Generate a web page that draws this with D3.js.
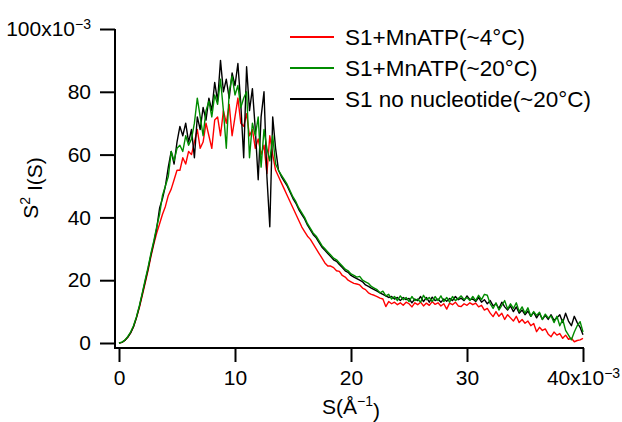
<!DOCTYPE html>
<html>
<head>
<meta charset="utf-8">
<script src="https://cdn.jsdelivr.net/npm/d3@7"></script>
<style>
  body { margin: 0; background: #fff; }
  text { font-family: "Liberation Sans", Arial, sans-serif; fill: #000; }
</style>
</head>
<body>
<svg id="chart" width="622" height="422"></svg>
<script>
// S values in units of 1e-3 (A^-1), step 0.25
const sStep = 0.25;
const sCount = 161;

// S^2 I(S), units of 1e-3
const redVals = [
  0, 0.2, 0.8, 1.8, 3.2, 5.2, 8, 11.2, 15, 19, 23, 27.5, 31.5, 35, 38, 41,
  43.5, 47, 49, 52, 55, 55, 59, 57, 61, 60, 64, 68, 62, 64, 70, 66,
  62, 71, 72, 66, 74, 70, 76, 66, 72, 78, 70, 69, 73, 66, 68, 62,
  65, 60, 63, 54, 66, 60, 55, 53, 51, 49, 47, 45, 43, 41, 39, 37,
  35.5, 34, 33, 31.5, 30, 28.5, 27, 25.5, 24.5, 24.5, 24, 23, 22.8, 21.5, 21, 20,
  19.5, 19, 18.8, 18.5, 17.5, 17, 16, 15.5, 15.2, 14.8, 14.3, 14, 11.6, 13.2, 12.5, 13,
  12.2, 12.8, 12, 13, 12.5, 11.5, 12.8, 12.2, 13, 11.8, 12.7, 12, 13.2, 12.3, 12.8, 11.8,
  12.5, 10.8, 12.7, 12.2, 13, 11.8, 11.6, 12.5, 12, 12.8, 12.2, 12.7, 11.5, 12, 10.5, 11,
  9.5, 8.4, 10, 8.5, 9.5, 7.5, 9, 8, 7, 8.5, 6.5, 7.5, 6.3, 7, 5.5, 6.2,
  3.6, 5, 4, 4.5, 2.8, 2, 3.5, 2.5, 3, 1.5, 2.5, 1.2, 1.5, 0.4, 0.8, 1,
  1.5
];
const greenVals = [
  0, 0.3, 0.9, 2, 3.5, 5.5, 8.3, 11.8, 15.8, 20, 24, 28.5, 32.5, 37, 41, 47,
  50, 53, 61, 58, 62, 63, 61, 66, 63, 65, 70, 78, 72, 66, 74, 77,
  72, 79, 76, 84, 74, 62, 80, 85, 79, 82, 75, 78, 80, 59, 70, 66,
  72, 56, 68, 62, 58, 66, 57, 55, 53.5, 52, 50.5, 48.5, 46.5, 45, 43, 41.5,
  40, 38, 36.5, 35, 34, 32.5, 31, 30, 29, 28, 27, 26.5, 25.5, 24.5, 23.5, 23,
  22, 21.5, 21, 21.2, 20, 19.5, 19, 18, 17.5, 17, 16, 16.5, 15, 15.5, 14, 14.8,
  13.5, 15, 13.8, 14.5, 13.2, 14.8, 13.5, 14, 13, 15.2, 13.8, 14.5, 13.2, 14.8, 13.5, 15,
  13.2, 14.5, 13, 14.8, 13.5, 14.2, 15, 13.8, 14.5, 13.5, 14.8, 13.5, 15.2, 13.8, 15.5, 15.2,
  12.5, 11, 12.8, 10.5, 12, 13.5, 10.8, 12.5, 11, 12.8, 10, 11.5, 9.5, 11.2, 8.5, 10,
  8.8, 9.8, 7.5, 9.2, 8, 8.6, 6.5, 8.5, 5.5, 7.5, 4, 2.5, 1, 3.5, 5.5, 6.8,
  3.5
];
const blackVals = [
  0, 0.2, 0.8, 1.8, 3.2, 5.2, 8, 11.5, 15.5, 19.5, 23.5, 28, 32, 36.5, 43, 46,
  50, 56, 61, 57, 64, 69, 66, 70, 64, 68, 59, 72, 68, 75, 71, 78,
  74, 83, 77, 90, 80, 84, 78, 86, 82, 89, 76, 59, 88, 74, 81, 68,
  52, 72, 80, 53, 37, 72, 62, 55, 53, 51.5, 50, 48, 46, 44.5, 42.5, 41,
  39.5, 37.5, 36, 34.5, 33.5, 32, 30.5, 29.5, 28.5, 27.5, 26.5, 26, 25, 24, 23, 22.5,
  21.5, 21, 20.5, 20, 19.5, 18.5, 18, 17.5, 17, 16.5, 16, 15.5, 15, 14.5, 14.8, 14,
  14.5, 13.5, 14.5, 13.8, 14.2, 12.8, 14, 13.5, 14.8, 13.2, 14.5, 13, 14.6, 13.5, 14, 13,
  14, 13.3, 14.2, 13.5, 14.8, 13.8, 14.3, 13.5, 15, 13.8, 14, 13.2, 14.5, 13, 13.8, 12.5,
  13.5, 11.8, 12.5, 11, 13, 11.5, 10.5, 11.8, 10, 11.5, 9.5, 10.5, 9, 10.2, 8.5, 9.8,
  8, 9.5, 7.5, 8.8, 7.5, 9, 7.2, 8, 9, 6.5, 9.5, 7, 5.5, 8.5, 6.5, 5,
  2.6
];

const seriesNames = ["S1+MnATP(~4°C)", "S1+MnATP(~20°C)", "S1 no nucleotide(~20°C)"];
const seriesColors = ["#ff0000", "#008c00", "#000000"];
const xTicks = [0, 10, 20, 30, 40];
const yTicks = [0, 20, 40, 60, 80, 100];

const sVals = d3.range(sCount).map(i => i * sStep);

const svg = d3.select("#chart");
const x = d3.scaleLinear().domain([0, 40]).range([119, 583]);
const y = d3.scaleLinear().domain([0, 100]).range([343, 29]);

const fs = 21, fsSup = 14;

// axes lines (offset Igor style)
const axisY = 348;
const axisX = 115;
svg.append("line").attr("x1", axisX).attr("x2", axisX).attr("y1", y(100)).attr("y2", axisY + 1)
  .attr("stroke", "#000").attr("stroke-width", 2);
svg.append("line").attr("x1", axisX - 1).attr("x2", x(40) + 1).attr("y1", axisY).attr("y2", axisY)
  .attr("stroke", "#000").attr("stroke-width", 2);

// y ticks
const yAxis = svg.append("g").attr("transform", `translate(${axisX},0)`)
  .call(d3.axisLeft(y).tickValues(yTicks).tickSize(15).tickPadding(9).tickSizeOuter(0)
    .tickFormat(d => d === 100 ? "100x10" : d));
yAxis.select(".domain").remove();
yAxis.selectAll(".tick line").attr("stroke-width", 2);
yAxis.selectAll(".tick text").attr("font-size", fs).attr("font-family", null);
yAxis.selectAll(".tick text").filter(d => d === 100)
  .append("tspan").attr("dy", "-0.5em").attr("font-size", fsSup).text("\u22123");

// x ticks
const xAxis = svg.append("g").attr("transform", `translate(0,${axisY})`)
  .call(d3.axisBottom(x).tickValues(xTicks).tickSize(14).tickPadding(8).tickSizeOuter(0)
    .tickFormat(d => d === 40 ? "40x10" : d));
xAxis.select(".domain").remove();
xAxis.selectAll(".tick line").attr("stroke-width", 2);
xAxis.selectAll(".tick text").attr("font-size", fs).attr("font-family", null);
xAxis.selectAll(".tick text").filter(d => d === 40)
  .append("tspan").attr("dy", "-0.5em").attr("font-size", fsSup).text("\u22123");

// axis titles
const xt = svg.append("text").attr("x", x(20)).attr("y", 414)
  .attr("text-anchor", "middle").attr("font-size", fs);
xt.append("tspan").text("S(Å");
xt.append("tspan").attr("dy", "-0.55em").attr("font-size", fsSup).text("\u22121");
xt.append("tspan").attr("dy", "0.55em").text(")");

const yt = svg.append("text").attr("transform", `translate(38,${y(50) + 2}) rotate(-90)`)
  .attr("text-anchor", "middle").attr("font-size", fs);
yt.append("tspan").text("S");
yt.append("tspan").attr("dy", "-0.55em").attr("font-size", fsSup).text("2");
yt.append("tspan").attr("dy", "0.55em").text(" I(S)");

// curves
const line = d3.line().x((d, i) => x(sVals[i])).y(d => y(d));
const drawOrder = [[redVals, 0], [blackVals, 2], [greenVals, 1]];
drawOrder.forEach(([vals, k]) => {
  svg.append("path").datum(vals)
    .attr("d", line)
    .attr("fill", "none")
    .attr("stroke", seriesColors[k])
    .attr("stroke-width", 1.4)
    .attr("stroke-linejoin", "round");
});

// legend
const legendY = [37, 68, 99];
seriesNames.forEach((name, k) => {
  svg.append("line").attr("x1", 290).attr("x2", 334).attr("y1", legendY[k]).attr("y2", legendY[k])
    .attr("stroke", seriesColors[k]).attr("stroke-width", 2);
  svg.append("text").attr("x", 345).attr("y", legendY[k]).attr("dy", "0.36em")
    .attr("font-size", 22.5).text(name);
});
</script>
</body>
</html>
